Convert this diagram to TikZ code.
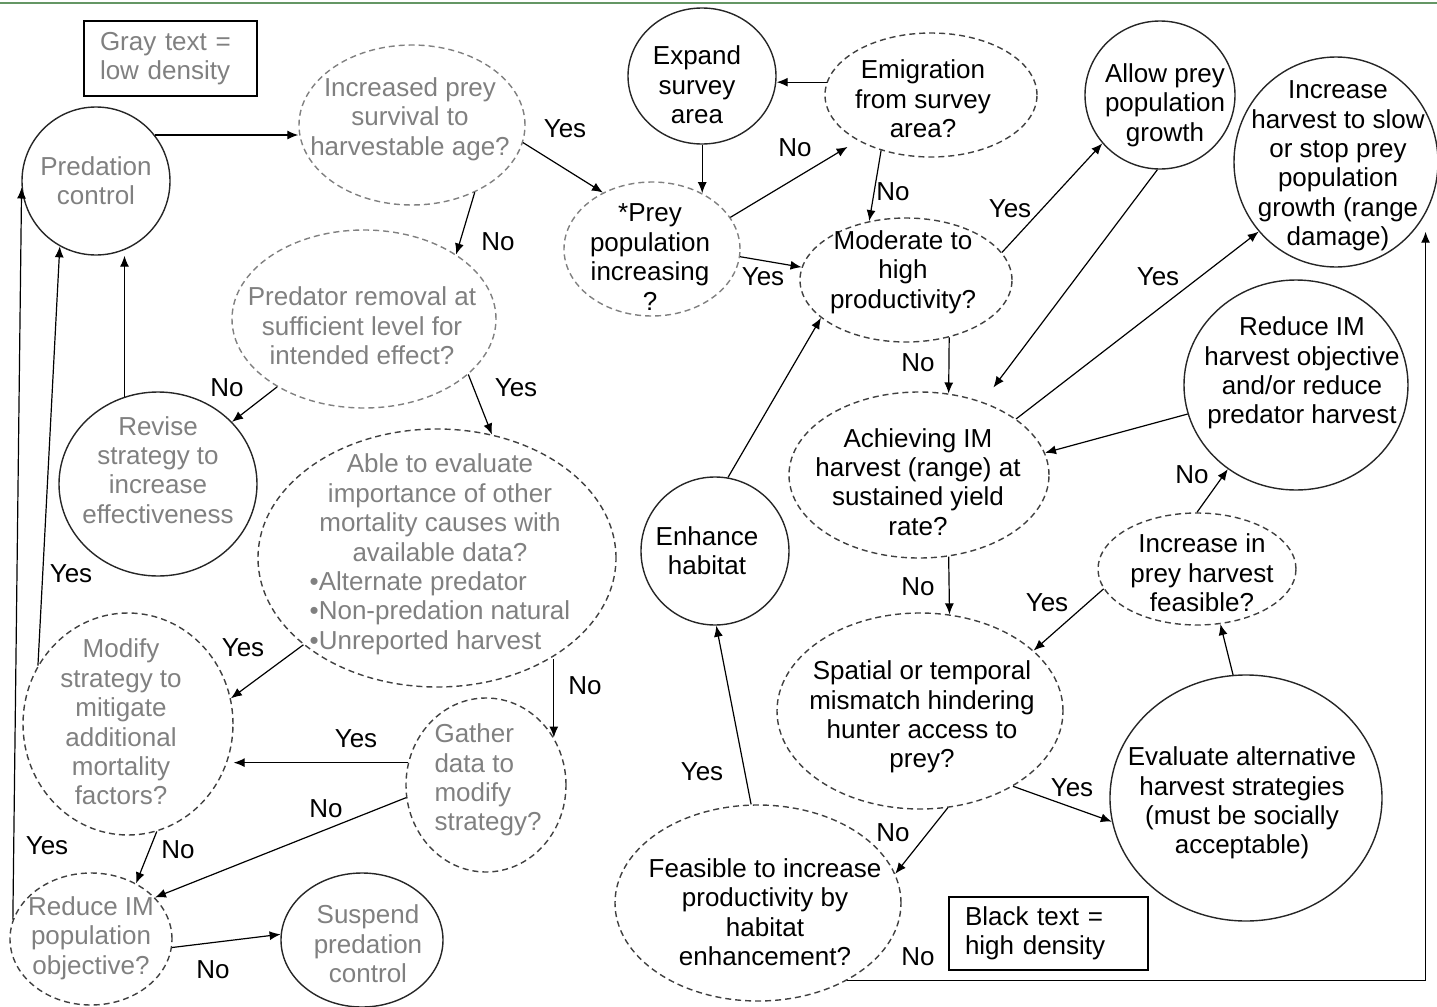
\documentclass[tikz,border=0pt]{standalone}
\usepackage{fontspec}
\setmainfont{Liberation Sans}
\usepackage{tikz}
\usetikzlibrary{shapes,arrows.meta,calc}

\definecolor{lowgray}{RGB}{128,128,128}
\definecolor{topgreen}{RGB}{100,150,100}

\tikzset{
    txt/.style={font=\fontsize{13}{14.7}\selectfont, align=center, inner sep=0pt},
    lowtxt/.style={txt, text=lowgray},
    act/.style={draw=black!85, ellipse, line width=0.7pt, inner sep=0pt},
    ask/.style={draw=black!75, ellipse, dash pattern=on 3pt off 2pt, line width=0.7pt, inner sep=0pt},
    askpale/.style={ask, draw=black!50},
    keybox/.style={draw, line width=0.8pt, align=left, inner sep=0pt, font=\fontsize{13}{14.7}\selectfont},
    arr/.style={-{Latex[length=5.5pt,width=4.5pt]}, line width=0.6pt}
}

\begin{document}
\begin{tikzpicture}[x=0.5pt, y=-0.5pt]
    \useasboundingbox (0,0) rectangle (1437,1007);
    \draw [topgreen, line width=1.2pt] (0,3) -- (1437,3);

    % Keys
    \node (graykey) [keybox, text=lowgray, minimum width=86.5pt, minimum height=37.5pt, text width=70.5pt] at (170.5,58.5) {Gray text =\\low density};
    \node (blackkey) [keybox, minimum width=99.5pt, minimum height=36.5pt, text width=83.5pt] at (1048.5,933.5) {Black text =\\high density};

    % Low density branch
    \node (pc) [act, minimum width=74pt, minimum height=74pt] at (96,181) {};
    \node (pc-t) [lowtxt] at (96,181) {Predation\\control};
    \node (incr) [askpale, minimum width=113pt, minimum height=80pt] at (412,125) {};
    \node (incr-t) [lowtxt] at (410,119) {Increased prey\\survival to\\harvestable age?};
    \node (pred) [askpale, minimum width=132pt, minimum height=89pt] at (364,319) {};
    \node (pred-t) [lowtxt] at (362,326) {Predator removal at\\sufficient level for\\intended effect?};
    \node (rev) [act, minimum width=99pt, minimum height=92pt] at (158,484) {};
    \node (rev-t) [lowtxt] at (158,470) {Revise\\strategy to\\increase\\effectiveness};
    \node (able) [ask, minimum width=179pt, minimum height=129pt] at (437,558) {};
    \node (able-t) [lowtxt] at (440,556) {Able to evaluate\\importance of other\\mortality causes with\\available data?\\
        \begin{tabular}[t]{@{}l@{}}•Alternate predator\\•Non-predation natural\\•Unreported harvest\end{tabular}};
    \node (mod) [ask, minimum width=105pt, minimum height=111pt] at (128,724) {};
    \node (mod-t) [lowtxt] at (121,722) {Modify\\strategy to\\mitigate\\additional\\mortality\\factors?};
    \node (gath) [ask, minimum width=80pt, minimum height=87pt] at (486,785) {};
    \node (gath-t) [lowtxt, align=left] at (488,780) {Gather\\data to\\modify\\strategy?};
    \node (redpop) [ask, minimum width=81pt, minimum height=66pt] at (91,939) {};
    \node (redpop-t) [lowtxt] at (91,938) {Reduce IM\\population\\objective?};
    \node (susp) [act, minimum width=81pt, minimum height=67pt] at (362,940) {};
    \node (susp-t) [lowtxt] at (368,944) {Suspend\\predation\\control};

    % High density branch
    \node (exp) [act, minimum width=74pt, minimum height=68pt] at (702,76) {};
    \node (exp-t) [txt] at (697,85) {Expand\\survey\\area};
    \node (emig) [ask, minimum width=106pt, minimum height=62pt] at (931,95) {};
    \node (emig-t) [txt] at (923,99) {Emigration\\from survey\\area?};
    \node (prey) [askpale, minimum width=88pt, minimum height=67pt] at (652,249) {};
    \node (prey-t) [txt] at (650,257) {*Prey\\population\\increasing\\?};
    \node (prod) [ask, minimum width=106pt, minimum height=62pt] at (906,280) {};
    \node (prod-t) [txt] at (903,272) {Moderate to\\high\\productivity?};
    \node (allow) [act, minimum width=75pt, minimum height=74pt] at (1160,95) {};
    \node (allow-t) [txt] at (1165,105) {Allow prey\\population\\growth};
    \node (inch) [act, minimum width=102pt, minimum height=105pt] at (1336,162) {};
    \node (inch-t) [txt] at (1338,166) {Increase\\harvest to slow\\or stop prey\\population\\growth (range\\damage)};
    \node (redh) [act, minimum width=112pt, minimum height=105pt] at (1296,385) {};
    \node (redh-t) [txt] at (1302,373) {Reduce IM\\harvest objective\\and/or reduce\\predator harvest};
    \node (ach) [ask, minimum width=130pt, minimum height=83pt] at (919,475) {};
    \node (ach-t) [txt] at (918,482) {Achieving IM\\harvest (range) at\\sustained yield\\rate?};
    \node (enh) [act, minimum width=74pt, minimum height=74pt] at (715,551) {};
    \node (enh-t) [txt] at (707,551) {Enhance\\habitat};
    \node (incp) [ask, minimum width=99pt, minimum height=56pt] at (1197,569) {};
    \node (incp-t) [txt] at (1202,573) {Increase in\\prey harvest\\feasible?};
    \node (spat) [ask, minimum width=143pt, minimum height=98pt] at (920,711) {};
    \node (spat-t) [txt] at (922,717) {Spatial or temporal\\mismatch hindering\\hunter access to\\prey?};
    \node (eval) [act, minimum width=136pt, minimum height=123pt] at (1246,798) {};
    \node (eval-t) [txt] at (1242,803) {Evaluate alternative\\harvest strategies\\(must be socially\\acceptable)};
    \node (feas) [ask, minimum width=143pt, minimum height=98pt] at (758,903) {};
    \node (feas-t) [txt] at (765,912) {Feasible to increase\\productivity by\\habitat\\enhancement?};

    % Arrows, low density
    \draw [arr] (pc.38) -- (pc.38 -| incr.west);
    \draw [arr] (incr.-9) -- (prey.131);
    \draw [arr] (incr.-47) -- (pred.35);
    \draw [arr] (pred.218) -- (rev.40);
    \draw [arr] (pred.-28) -- (able.66);
    \draw [arr] (rev.111) -- (rev.111 |- pc.south);
    \draw [arr] (mod.147) -- (pc.241);
    \draw [arr] (redpop.166) -- (pc.185);
    \draw [arr] (able.213) -- (mod.14);
    \draw [arr] (gath.35 |- able.318) -- (gath.35);
    \draw [arr] (gath.164) -- (gath.164 -| mod.east);
    \draw [arr] (gath.189) -- (redpop.33);
    \draw [arr] (mod.285) -- (redpop.51);
    \draw [arr] (redpop.354) -- (susp.176);

    % Arrows, high density
    \draw [arr] (prey.48 |- exp.south) -- (prey.48);
    \draw [arr] (emig.173) -- (emig.173 -| exp.east);
    \draw [arr, shorten >=6pt] (prey.22) -- (emig.212);
    \draw [arr] (emig.228) -- (prod.122);
    \draw [arr] (prey.355) -- (prod.173);
    \draw [arr] (prod.16) -- (allow.220);
    \draw [arr, shorten >=9pt] (allow.268) -- (ach.49);
    \draw [arr] (prod.307) -- (ach.70);
    \draw [arr] (ach.30) -- (inch.222);
    \draw [arr] (redh.195) -- (ach.10);
    \draw [arr] (incp.north) -- (redh.231);
    \draw [arr] (ach.290) -- (spat.73);
    \draw [arr] (incp.192) -- (spat.28);
    \draw [arr] (eval.96) -- (incp.293);
    \draw [arr] (spat.321) -- (eval.190);
    \draw [arr] (spat.286) -- (feas.12);
    \draw [arr] (feas.94) -- (enh.271);
    \draw [arr] (enh.80) -- (prod.204);
    \draw [arr] (feas.319) -| ([yshift=-9pt]inch.-30);

    % Yes / No
    \foreach \lx/\ly/\lt [count=\i] in {565/129/Yes, 498/242/No, 227/388/No, 516/388/Yes,
        71/574/Yes, 243/648/Yes, 585/686/No, 356/739/Yes, 326/809/No, 47/846/Yes,
        178/850/No, 213/970/No, 795/148/No, 893/192/No, 763/277/Yes, 1010/209/Yes,
        918/363/No, 1158/277/Yes, 1192/475/No, 918/587/No, 1047/603/Yes,
        1072/788/Yes, 893/833/No, 702/772/Yes, 918/957/No}
        \node (lab\i) [txt] at (\lx,\ly) {\lt};
\end{tikzpicture}
\end{document}
